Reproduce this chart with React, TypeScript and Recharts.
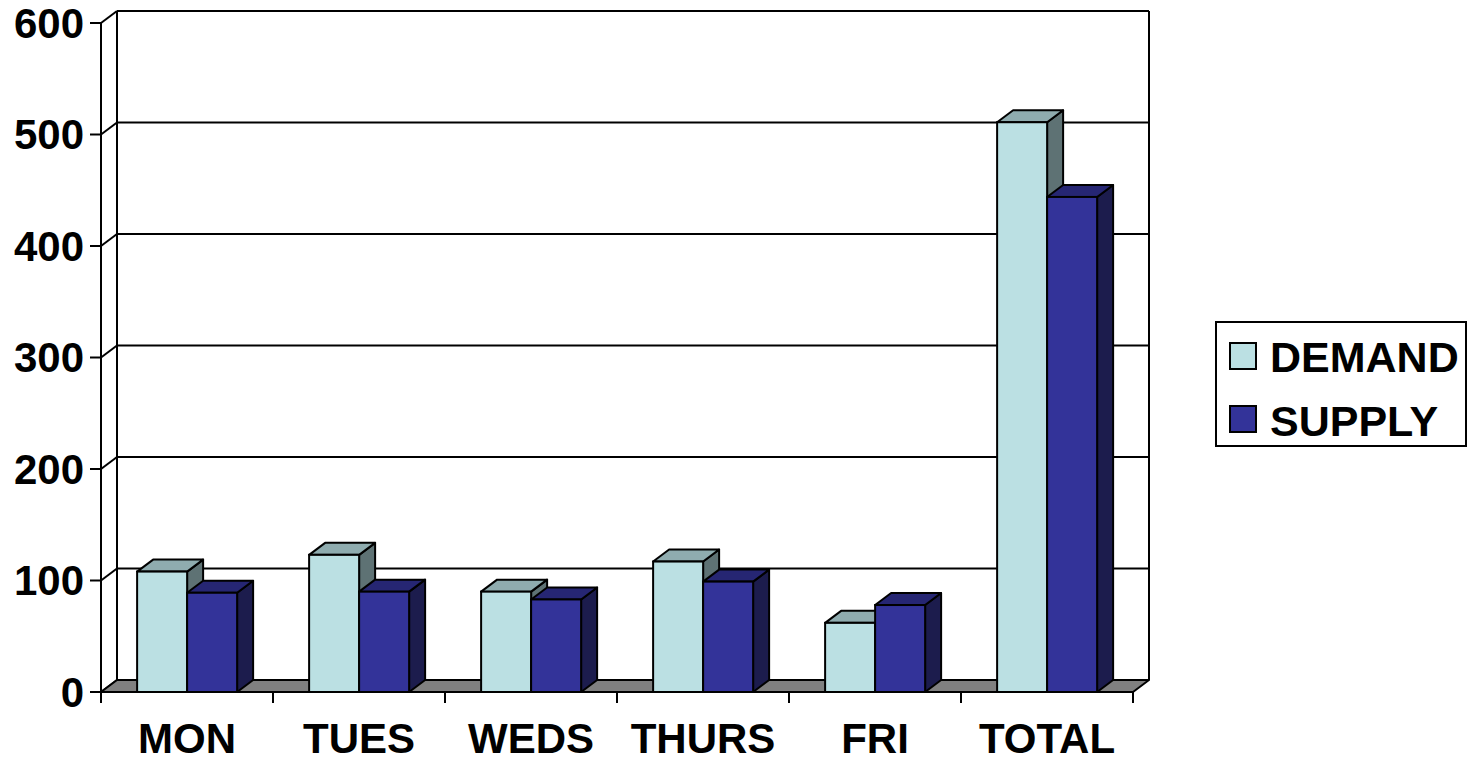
import React from 'react';
import { BarChart, Bar, XAxis, YAxis, CartesianGrid, Legend, ReferenceArea } from 'recharts';

const categories = ['MON', 'TUES', 'WEDS', 'THURS', 'FRI', 'TOTAL'];
const demand = [108, 123, 90, 117, 62, 511];
const supply = [89, 90, 83, 99, 78, 444];
const yTicks = [0, 100, 200, 300, 400, 500, 600];

const data = categories.map((c, i) => ({ name: c, DEMAND: demand[i], SUPPLY: supply[i] }));

const DX = 16;
const DY = 12;
const FONT = '"Liberation Sans", Arial, Helvetica, sans-serif';
const SW = 2;

const makeBar = (front: string, top: string, side: string) => (props: any) => {
  const { x, y, width, height } = props;
  if (x == null || width == null || height == null) return <g />;
  const w = width;
  const h = height;
  return (
    <g>
      <polygon
        points={`${x + w},${y} ${x + w + DX},${y - DY} ${x + w + DX},${y + h - DY} ${x + w},${y + h}`}
        fill={side}
        stroke="#000"
        strokeWidth={SW}
        strokeLinejoin="round"
      />
      <polygon
        points={`${x},${y} ${x + DX},${y - DY} ${x + w + DX},${y - DY} ${x + w},${y}`}
        fill={top}
        stroke="#000"
        strokeWidth={SW}
        strokeLinejoin="round"
      />
      <rect x={x} y={y} width={w} height={h} fill={front} stroke="#000" strokeWidth={SW} />
    </g>
  );
};

const DemandShape = makeBar('#BBE0E3', '#8FACAF', '#5E7274');
const SupplyShape = makeBar('#333399', '#262673', '#1C1C4D');

const gridH = (p: any) => {
  const { x1, x2, y1, key } = p;
  return (
    <g key={key}>
      <line x1={x1} y1={y1} x2={x1 + DX} y2={y1 - DY} stroke="#000" strokeWidth={SW} />
      <line x1={x1 + DX} y1={y1 - DY} x2={x2 + DX} y2={y1 - DY} stroke="#000" strokeWidth={SW} />
    </g>
  );
};

const WallShape = (p: any) => {
  const { x, y, width, height } = p;
  if (x == null) return <g />;
  const b = y + height;
  return (
    <g>
      <line x1={x + DX} y1={y - DY} x2={x + DX} y2={b - DY} stroke="#000" strokeWidth={SW} />
      <line x1={x + width + DX} y1={y - DY} x2={x + width + DX} y2={b - DY} stroke="#000" strokeWidth={SW} />
      <polygon
        points={`${x},${b} ${x + width},${b} ${x + width + DX},${b - DY} ${x + DX},${b - DY}`}
        fill="#808080"
        stroke="#000"
        strokeWidth={SW}
        strokeLinejoin="round"
      />
    </g>
  );
};

const XTick = (props: any) => {
  const { x, y, payload, index, visibleTicksCount } = props;
  const off = payload && typeof payload.offset === 'number' && payload.offset > 0 ? payload.offset : 86;
  const last = index === (visibleTicksCount ?? categories.length) - 1;
  return (
    <g>
      <line x1={x - off} y1={y} x2={x - off} y2={y + 11} stroke="#000" strokeWidth={SW} />
      {last && <line x1={x + off} y1={y} x2={x + off} y2={y + 11} stroke="#000" strokeWidth={SW} />}
      <text
        x={x}
        y={y + 61}
        textAnchor="middle"
        fontFamily={FONT}
        fontWeight="bold"
        fontSize={42}
        fill="#000"
      >
        {payload.value}
      </text>
    </g>
  );
};

const LegendBox = (props: any) => {
  const items = props.payload || [];
  return (
    <div
      style={{
        position: 'relative',
        width: 252,
        height: 126,
        border: '2px solid #000',
        boxSizing: 'border-box',
        background: '#fff',
        fontFamily: FONT,
      }}
    >
      {items.map((it: any, i: number) => (
        <React.Fragment key={i}>
          <div
            style={{
              position: 'absolute',
              left: 12,
              top: 19 + i * 63,
              width: 28,
              height: 28,
              boxSizing: 'border-box',
              border: '2px solid #000',
              background: it.color,
            }}
          />
          <div
            style={{
              position: 'absolute',
              left: 53,
              top: 13 + i * 64,
              fontSize: 43,
              fontWeight: 'bold',
              lineHeight: '43px',
              whiteSpace: 'nowrap',
              color: '#000',
            }}
          >
            {it.value}
          </div>
        </React.Fragment>
      ))}
    </div>
  );
};

export default function App() {
  return (
    <div style={{ position: 'absolute', left: 0, top: 0, width: 1468, height: 762, background: '#fff' }}>
      <BarChart
        width={1468}
        height={762}
        data={data}
        margin={{ top: 23, right: 335, bottom: 10, left: 0 }}
        barCategoryGap="21%"
        barGap={0}
      >
        <CartesianGrid horizontal={gridH} vertical={false} />
        <ReferenceArea y1={0} y2={600} shape={WallShape} ifOverflow="visible" />
        <XAxis
          dataKey="name"
          height={60}
          tickLine={false}
          tickSize={0}
          tickMargin={0}
          axisLine={{ stroke: '#000', strokeWidth: SW }}
          tick={<XTick />}
          interval={0}
        />
        <YAxis
          width={101}
          domain={[0, 600]}
          ticks={yTicks}
          interval={0}
          tickSize={11}
          tickMargin={6}
          axisLine={{ stroke: '#000', strokeWidth: SW }}
          tickLine={{ stroke: '#000', strokeWidth: SW }}
          tick={{ fontSize: 42, fontWeight: 'bold', fill: '#000', fontFamily: FONT }}
        />
        <Legend
          layout="vertical"
          align="center"
          verticalAlign="middle"
          content={<LegendBox />}
          wrapperStyle={{ left: 1215, top: 321, width: 252, height: 126 }}
        />
        <Bar dataKey="DEMAND" fill="#BBE0E3" shape={DemandShape} isAnimationActive={false} />
        <Bar dataKey="SUPPLY" fill="#333399" shape={SupplyShape} isAnimationActive={false} />
      </BarChart>
    </div>
  );
}
